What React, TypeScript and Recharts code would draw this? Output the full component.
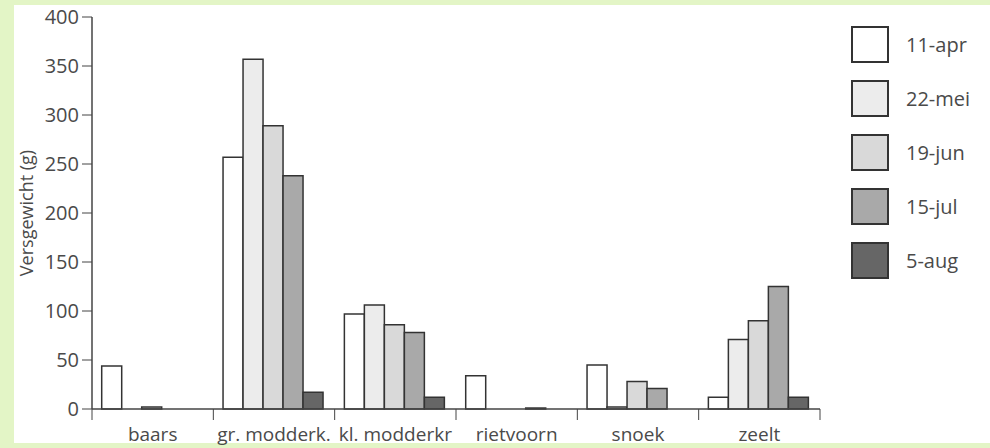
import React from 'react'
import { BarChart, Bar, XAxis, YAxis, Legend, Label } from 'recharts'

const categories = ['baars', 'gr. modderk.', 'kl. modderkr', 'rietvoorn', 'snoek', 'zeelt']
const seriesNames = ['11-apr', '22-mei', '19-jun', '15-jul', '5-aug']
const apr11 = [44, 257, 97, 34, 45, 12]
const mei22 = [0, 357, 106, 0, 2, 71]
const jun19 = [2, 289, 86, 0, 28, 90]
const jul15 = [0, 238, 78, 1, 21, 125]
const aug5 = [0, 17, 12, 0, 0, 12]
const yTicks = [0, 50, 100, 150, 200, 250, 300, 350, 400]

const seriesValues = [apr11, mei22, jun19, jul15, aug5]
const fills = ['#ffffff', '#ececec', '#d9d9d9', '#a9a9a9', '#666666']

const data = categories.map((name, i) => {
    const row: any = { name }
    seriesNames.forEach((s, j) => { row[s] = seriesValues[j][i] })
    return row
})

const FONT = '"Open Sans", "Noto Sans", sans-serif'
const TEXT = '#4a4a4a'
const LINE = '#444'
const PLOT_W = 728
const band = PLOT_W / categories.length

const CategoryTick = ({ x, y, payload, index }: any) => {
    return (
        <g>
            <line x1={x - band / 2} x2={x - band / 2} y1={y} y2={y + 11} stroke={LINE} strokeWidth={1} />
            {index === categories.length - 1 ? (
                <line x1={x + band / 2} x2={x + band / 2} y1={y} y2={y + 11} stroke={LINE} strokeWidth={1} />
            ) : null}
            <text x={x} y={y + 32} textAnchor='middle' fill={TEXT} fontSize={19} fontFamily={FONT}>
                {payload.value}
            </text>
        </g>
    )
}

const LegendBoxes = () => (
    <div style={{ fontFamily: FONT }}>
        {seriesNames.map((s, i) => (
            <div key={s} style={{ display: 'flex', alignItems: 'center', height: 37, marginBottom: 17 }}>
                <svg width={38} height={37}>
                    <rect x={1} y={1} width={36} height={35} fill={fills[i]} stroke='#333' strokeWidth={2} />
                </svg>
                <span style={{ marginLeft: 17, fontSize: 20, color: TEXT }}>{s}</span>
            </div>
        ))}
    </div>
)

const App = () => {
    return (
        <div style={{ position: 'fixed', left: 0, top: 0, width: 990, height: 448, background: '#e3f5c6' }}>
            <div style={{ position: 'absolute', left: 14, top: 5, width: 976, height: 438, background: '#ffffff' }} />
            <div style={{ position: 'absolute', left: 0, top: 0 }}>
                <BarChart
                    width={990}
                    height={448}
                    data={data}
                    margin={{ top: 17, right: 170, left: 32, bottom: 9 }}
                    barCategoryGap='8%'
                    barGap={0}
                >
                    <XAxis
                        dataKey='name'
                        height={30}
                        axisLine={{ stroke: LINE, strokeWidth: 1.5 }}
                        tickLine={false}
                        tickSize={0}
                        tickMargin={0}
                        tick={<CategoryTick />}
                        interval={0}
                    />
                    <XAxis xAxisId='top' dataKey='name' orientation='top' height={0} tick={false} tickLine={false}
                        axisLine={{ stroke: LINE, strokeWidth: 1.5 }} />
                    <YAxis
                        width={60}
                        domain={[0, 400]}
                        ticks={yTicks}
                        interval={0}
                        axisLine={{ stroke: LINE, strokeWidth: 1.5 }}
                        tickLine={{ stroke: LINE }}
                        tickSize={10}
                        tickMargin={3}
                        tick={{ fill: TEXT, fontSize: 20, fontFamily: FONT }}
                    >
                        <Label value='Versgewicht (g)' angle={-90} position='insideLeft' offset={-5}
                            style={{ fill: TEXT, fontSize: 18, fontFamily: FONT, textAnchor: 'middle' }} />
                    </YAxis>
                    <YAxis yAxisId='right' orientation='right' width={0} domain={[0, 400]} tick={false} tickLine={false}
                        axisLine={{ stroke: LINE, strokeWidth: 1.5 }} />
                    {seriesNames.map((s, i) => (
                        <Bar key={s} dataKey={s} fill={fills[i]} stroke='#333' strokeWidth={1.5} isAnimationActive={false} />
                    ))}
                    <Legend layout='vertical' align='center' verticalAlign='middle' content={<LegendBoxes />}
                        wrapperStyle={{ left: 851, top: 26, width: 130 }} />
                </BarChart>
            </div>
        </div>
    )
}

export default App
